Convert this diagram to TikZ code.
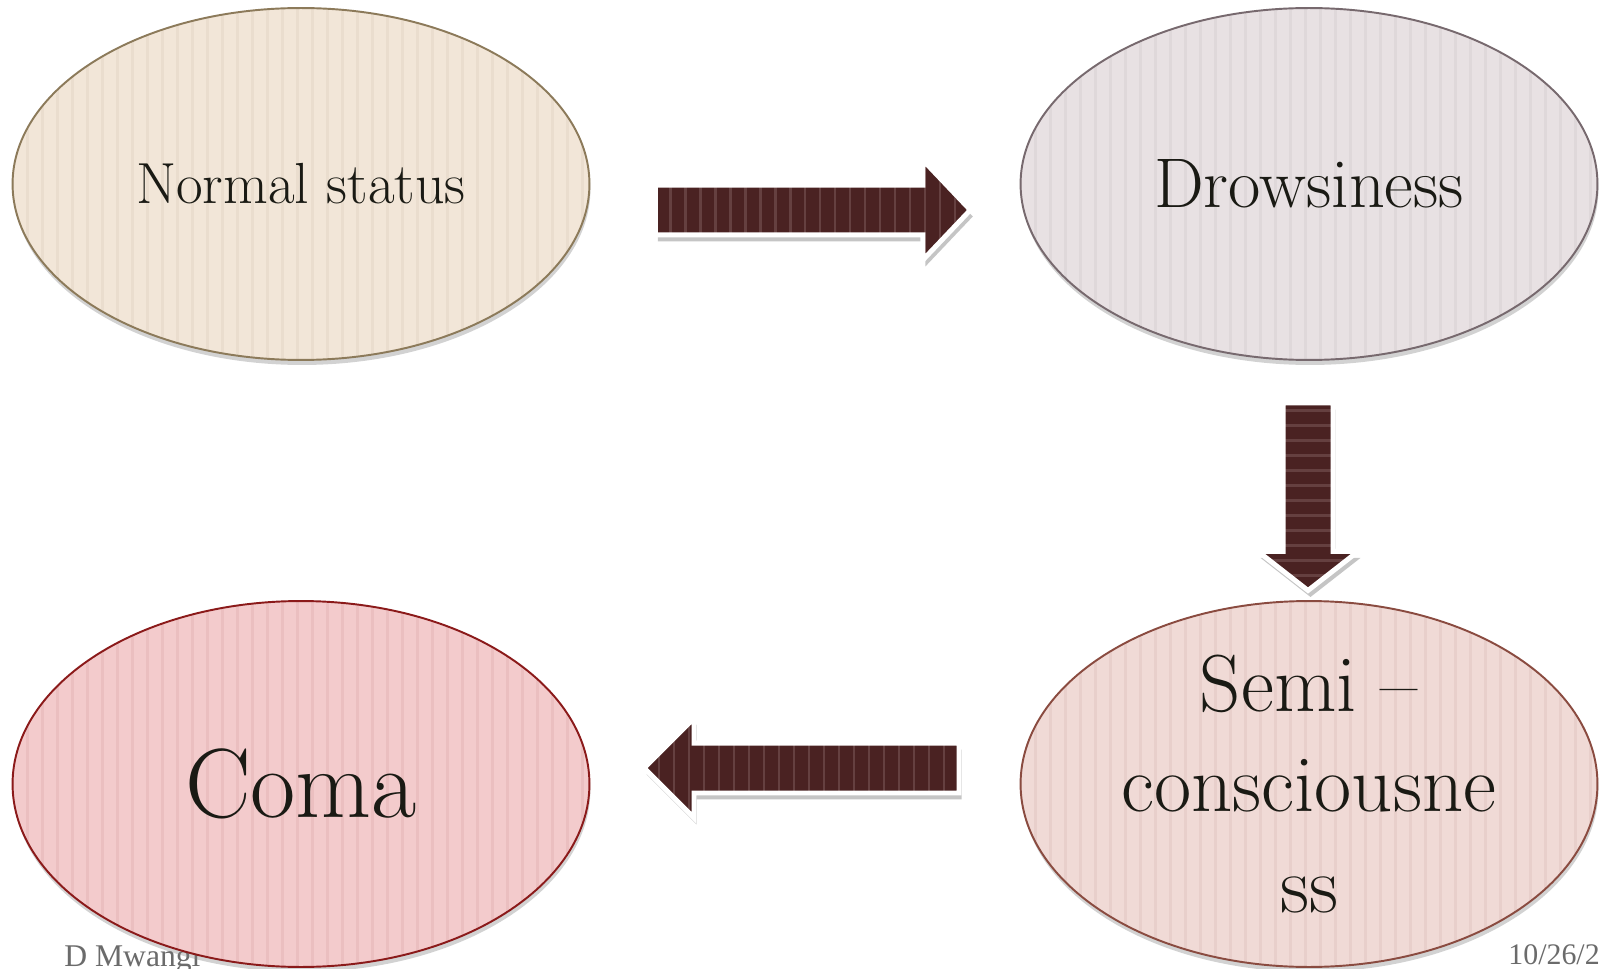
\documentclass[tikz,border=0pt]{standalone}
\usepackage{fontspec}
\newfontfamily\footfont{Liberation Serif}
\usetikzlibrary{shapes.geometric,shapes.arrows,shadows}
\definecolor{txt}{HTML}{1A1A14}
\definecolor{nfill}{HTML}{F2E6D8}\definecolor{nstripe}{HTML}{EADDCE}\definecolor{nline}{HTML}{8C7A5A}
\definecolor{dfill}{HTML}{E8E1E3}\definecolor{dstripe}{HTML}{DFD8DA}\definecolor{dline}{HTML}{77696E}
\definecolor{sfill}{HTML}{F0DAD6}\definecolor{sstripe}{HTML}{E8CFCB}\definecolor{sline}{HTML}{8A4B40}
\definecolor{cfill}{HTML}{F3CBCC}\definecolor{cstripe}{HTML}{EBBFC0}\definecolor{cline}{HTML}{8B1A1A}
\definecolor{afill}{HTML}{4A2222}\definecolor{astripe}{HTML}{654040}
\definecolor{foot}{HTML}{6B6B6B}
\tikzset{
  vstripes/.style={path picture={
    \foreach \k in {0,...,45}{
      \draw[#1, line width=1.3pt] ([xshift=\k*0.3cm]path picture bounding box.south west)
        -- ([xshift=\k*0.3cm]path picture bounding box.north west);}}},
  hstripes/.style={path picture={
    \foreach \k in {0,...,25}{
      \draw[#1, line width=1.3pt] ([yshift=\k*0.3cm]path picture bounding box.south west)
        -- ([yshift=\k*0.3cm]path picture bounding box.south east);}}},
  state/.style={ellipse, minimum width=11.54cm, line width=1.1pt, inner sep=0pt,
    text=txt, align=center,
    drop shadow={opacity=0.35, shadow xshift=0.02cm, shadow yshift=-0.1cm}},
  blockarrow/.style={single arrow, draw=white, line width=2.8pt, fill=afill,
    inner sep=0.45cm, single arrow head extend=0.5cm,
    drop shadow={opacity=0.45, shadow xshift=0.05cm, shadow yshift=-0.13cm}},
}
\begin{document}
\begin{tikzpicture}[x=0.02cm,y=-0.02cm]
\useasboundingbox (0,0) rectangle (1601,969);
\fill[white] (0,0) rectangle (1601,969);
% footer
\node[anchor=base west, inner sep=0pt, text=foot, font=\footfont\fontsize{18}{20}\selectfont] (author) at (64,966) {D Mwangi};
\node[anchor=base east, inner sep=0pt, text=foot, font=\footfont\fontsize{17}{20}\selectfont] (date) at (1600,964) {10/26/2};
% ellipses
\node[state, minimum height=7.04cm, draw=nline, fill=nfill, vstripes=nstripe,
  font=\fontsize{33}{40}\selectfont] (normal) at (301,184) {Normal status};
\node[state, minimum height=7.04cm, draw=dline, fill=dfill, vstripes=dstripe,
  font=\fontsize{40}{46}\selectfont] (drowsy) at (1309,184) {Drowsiness};
\node[state, minimum height=7.32cm, draw=sline, fill=sfill, vstripes=sstripe,
  font=\fontsize{46}{57}\selectfont] (semi) at (1309,784) {Semi –\\consciousne\\ss};
\node[state, minimum height=7.32cm, draw=cline, fill=cfill, vstripes=cstripe,
  font=\fontsize{56}{64}\selectfont] (coma) at (301,784) {Coma};
% block arrows
\node[blockarrow, minimum height=6.3cm, single arrow tip angle=93, vstripes=astripe] (a1) at (801,210) {};
\node[blockarrow, minimum height=3.75cm, single arrow tip angle=104, shape border rotate=270, hstripes=astripe] (a2) at (1308,487) {};
\node[blockarrow, minimum height=6.3cm, single arrow tip angle=90, shape border rotate=180, vstripes=astripe] (a3) at (814,768) {};
\end{tikzpicture}
\end{document}
